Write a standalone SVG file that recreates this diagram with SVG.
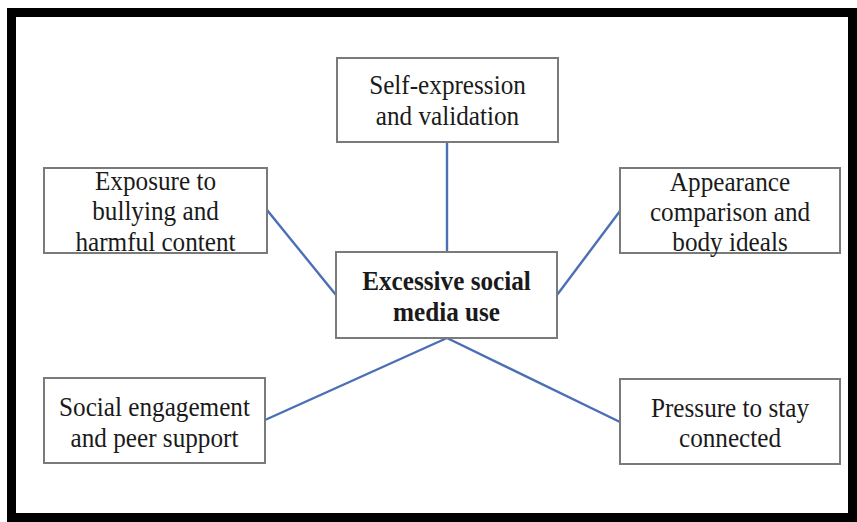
<svg xmlns="http://www.w3.org/2000/svg" width="857" height="522" viewBox="0 0 857 522">
  <style>
    .box { fill: #ffffff; stroke: #7a7a7a; stroke-width: 2; }
    .lbl { font-family: "Liberation Serif", "Times New Roman", serif; font-size: 28px; fill: #1a1a1a; text-anchor: middle; }
    .bold { font-weight: bold; }
    .link { stroke: #4a6fb5; stroke-width: 2.4; fill: none; }
  </style>
  <rect x="0" y="0" width="857" height="522" fill="#ffffff"/>
  <!-- outer frame -->
  <rect x="11.5" y="12.5" width="841" height="505" fill="none" stroke="#000000" stroke-width="9"/>

  <g id="connectors">
    <line class="link" x1="447" y1="142" x2="447" y2="252"/>
    <line class="link" x1="267" y1="210" x2="336" y2="295"/>
    <line class="link" x1="557" y1="295" x2="620" y2="211"/>
    <line class="link" x1="447" y1="338" x2="265" y2="420"/>
    <line class="link" x1="447" y1="338" x2="620" y2="422"/>
  </g>

  <g id="self-expression">
    <rect class="box" x="337" y="58" width="221" height="84"/>
    <g transform="translate(447.5,0) scale(0.9,1)">
      <text class="lbl" x="0" y="94">Self-expression</text>
      <text class="lbl" x="0" y="125">and validation</text>
    </g>
  </g>

  <g id="exposure">
    <rect class="box" x="44" y="168" width="223" height="85"/>
    <g transform="translate(155.5,0) scale(0.9,1)">
      <text class="lbl" x="0" y="190">Exposure to</text>
      <text class="lbl" x="0" y="220">bullying  and</text>
      <text class="lbl" x="0" y="251">harmful content</text>
    </g>
  </g>

  <g id="appearance">
    <rect class="box" x="620" y="168" width="220" height="85"/>
    <g transform="translate(730,0) scale(0.9,1)">
      <text class="lbl" x="0" y="191">Appearance</text>
      <text class="lbl" x="0" y="221">comparison and</text>
      <text class="lbl" x="0" y="251">body ideals</text>
    </g>
  </g>

  <g id="excessive-use">
    <rect class="box" x="336" y="252" width="221" height="86"/>
    <g transform="translate(446.5,0) scale(0.9,1)">
      <text class="lbl bold" x="0" y="290">Excessive social</text>
      <text class="lbl bold" x="0" y="321">media use</text>
    </g>
  </g>

  <g id="social-engagement">
    <rect class="box" x="44" y="378" width="221" height="85"/>
    <g transform="translate(154.5,0) scale(0.9,1)">
      <text class="lbl" x="0" y="416">Social  engagement</text>
      <text class="lbl" x="0" y="447">and peer support</text>
    </g>
  </g>

  <g id="pressure">
    <rect class="box" x="620" y="379" width="220" height="85"/>
    <g transform="translate(730,0) scale(0.9,1)">
      <text class="lbl" x="0" y="417">Pressure to stay</text>
      <text class="lbl" x="0" y="447">connected</text>
    </g>
  </g>
</svg>
